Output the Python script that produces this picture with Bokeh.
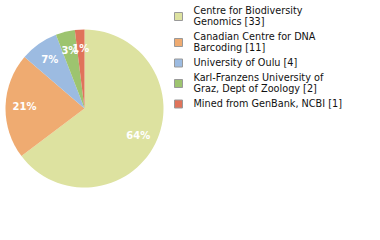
import math
from bokeh.plotting import figure
from bokeh.models import Range1d, ColumnDataSource
from bokeh.core.properties import value
from bokeh.embed import file_html
from bokeh.resources import INLINE

# ---- data ----
institutions = [
    "Centre for Biodiversity Genomics",
    "Canadian Centre for DNA Barcoding",
    "University of Oulu",
    "Karl-Franzens University of Graz, Dept of Zoology",
    "Mined from GenBank, NCBI",
]
legend_lines = [
    ["Centre for Biodiversity", "Genomics [33]"],
    ["Canadian Centre for DNA", "Barcoding [11]"],
    ["University of Oulu [4]"],
    ["Karl-Franzens University of", "Graz, Dept of Zoology [2]"],
    ["Mined from GenBank, NCBI [1]"],
]
counts = [33, 11, 4, 2, 1]
colors = ["#dde2a0", "#efab71", "#9cbbe1", "#9dc46f", "#e0735a"]

W, H = 380, 240
p = figure(width=W, height=H, output_backend="svg", toolbar_location=None,
           x_range=Range1d(0, W), y_range=Range1d(0, H), min_border=0)
p.axis.visible = False
p.grid.visible = False
p.outline_line_color = None
p.background_fill_color = "white"
p.border_fill_color = "white"

cx, cy, r = 84, H - 108, 79
total = sum(counts)
starts, ends, lx, ly, labels = [], [], [], [], []
acc = 0
for c in counts:
    a0 = math.pi / 2 - 2 * math.pi * acc / total
    acc += c
    a1 = math.pi / 2 - 2 * math.pi * acc / total
    starts.append(a0)
    ends.append(a1)
    mid = (a0 + a1) / 2
    lx.append(cx + 60 * math.cos(mid))
    ly.append(cy + 60 * math.sin(mid))
    labels.append("%d%%" % int(100 * c / total))

src = ColumnDataSource(dict(start=starts, end=ends, color=colors))
p.wedge(x=cx, y=cy, radius=r, start_angle="start", end_angle="end",
        direction="clock", fill_color="color", line_color=None, source=src)
p.text(x=lx, y=ly, text=labels, text_color="white", text_font=value("DejaVu Sans"),
       text_font_style="bold", text_font_size="10px", text_align="center",
       text_baseline="middle")

# legend
tx, ty, tline = [], [], []
sx, sy = [], []
y = 10
for lines in legend_lines:
    ys = []
    for ln in lines:
        tx.append(193)
        ty.append(H - y)
        tline.append(ln)
        ys.append(y)
        y += 11
    sx.append(178)
    sy.append(H - (ys[0] + ys[-1]) / 2 - 0.5)
    y += 4
p.rect(x=sx, y=sy, width=8, height=8, fill_color=colors, line_color="#999999",
       line_width=1)
p.text(x=tx, y=ty, text=tline, text_color="#111111", text_font=value("DejaVu Sans"),
       text_font_size="9.7px", text_align="left", text_baseline="middle")

open("out.html", "w").write(file_html(p, INLINE))
